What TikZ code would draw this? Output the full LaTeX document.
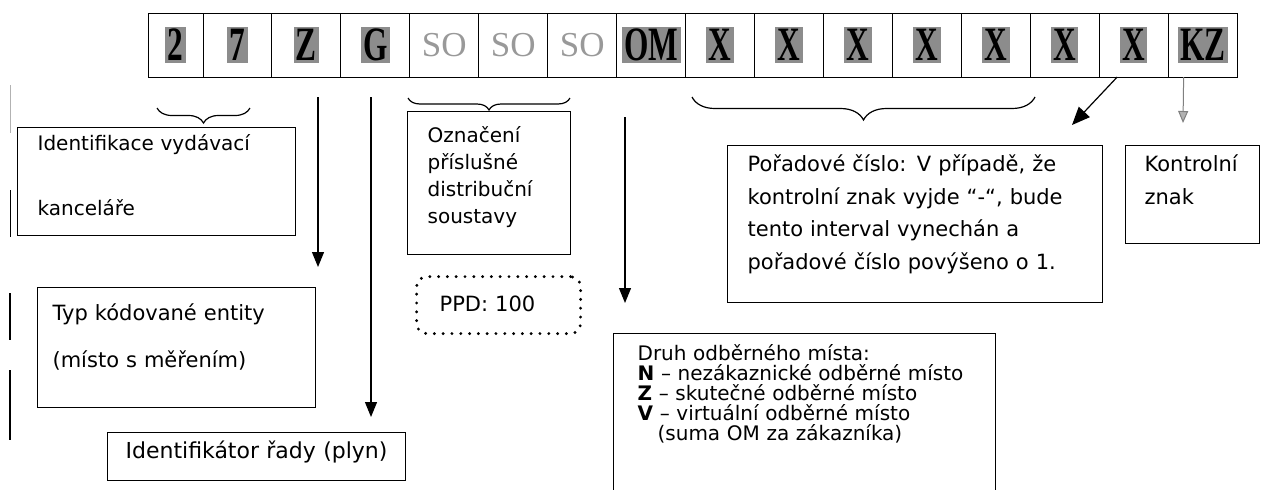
\documentclass[tikz,border=0pt]{standalone}
\usepackage{fontspec}
\setmainfont{DejaVu Sans}
\newfontfamily\serifcode{Liberation Serif}
\usepackage{graphicx}
\usetikzlibrary{positioning,decorations.pathreplacing,arrows.meta}

\definecolor{glyphgray}{gray}{0.55}
\definecolor{sogray}{gray}{0.6}
\newcommand{\glyph}[1]{{\setlength{\fboxsep}{1.2pt}\colorbox{glyphgray}{\serifcode\bfseries\fontsize{16.5}{18}\selectfont\scalebox{0.95}[1.45]{#1}}}}
\newcommand{\sotext}{{\color{sogray}\serifcode\fontsize{17.5}{18}\selectfont SO}}

\begin{document}
\begin{tikzpicture}[
		x=0.5pt, y=-0.5pt,
		cell/.style={
			draw,
			minimum width=34.47pt,
			minimum height=32pt,
			inner sep=0pt,
			outer sep=0pt,
			line width=0.5pt
			},
		box/.style={
			draw,
			anchor=north west,
			align=left,
			inner ysep=0pt,
			line width=0.6pt,
			font=\fontsize{10.5}{16}\selectfont
			},
		brace/.style={
			decorate,
			decoration={brace, amplitude=#1},
			line width=0.6pt
			},
		line/.style={
			draw,
			line width=0.6pt,
			-{Triangle[length=7.5pt, width=6pt]}
			}]
	    \useasboundingbox (0,0) rectangle (1263,489);
	    \clip (0,0) rectangle (1263,489);

	    % Code cells
	    \node [cell, minimum width=27.5pt, anchor=north west] (office1) at (148,13) {\glyph{2}};
	    \node [cell, right=0pt of office1] (office2) {\glyph{7}};
	    \node [cell, right=0pt of office2] (entity) {\glyph{Z}};
	    \node [cell, right=0pt of entity] (series) {\glyph{G}};
	    \node [cell, right=0pt of series] (so1) {\sotext};
	    \node [cell, right=0pt of so1] (so2) {\sotext};
	    \node [cell, right=0pt of so2] (so3) {\sotext};
	    \node [cell, right=0pt of so3] (om) {\glyph{OM}};
	    \node [cell, right=0pt of om] (x1) {\glyph{X}};
	    \node [cell, right=0pt of x1] (x2) {\glyph{X}};
	    \node [cell, right=0pt of x2] (x3) {\glyph{X}};
	    \node [cell, right=0pt of x3] (x4) {\glyph{X}};
	    \node [cell, right=0pt of x4] (x5) {\glyph{X}};
	    \node [cell, right=0pt of x5] (x6) {\glyph{X}};
	    \node [cell, right=0pt of x6] (x7) {\glyph{X}};
	    \node [cell, right=0pt of x7] (kz) {\glyph{KZ}};

	    % Description boxes
	    \node [box, text width=119pt, inner xsep=10pt, text height=11.5pt, text depth=42.5pt,
	        font=\fontsize{10}{32.5}\selectfont] (officebox) at (17,127) {Identifikace vydávací\\kanceláře};
	    \node [box, text width=124pt, inner xsep=7.5pt, text height=16.5pt, text depth=43.5pt,
	        font=\fontsize{10.5}{23.5}\selectfont] (entitybox) at (37,287) {Typ kódované entity\\(místo s měřením)};
	    \node [box, text width=131pt, inner xsep=9pt, text height=13pt, text depth=11pt,
	        font=\fontsize{11}{13}\selectfont] (seriesbox) at (107,432) {Identifikátor řady (plyn)};
	    \node [box, text width=61.5pt, inner xsep=10pt, text height=15.5pt, text depth=56pt,
	        font=\fontsize{10}{13.5}\selectfont] (sobox) at (407,111) {Označení\\příslušné\\distribuční\\soustavy};
	    \node [box, text width=59pt, inner xsep=11.5pt, text height=17.5pt, text depth=11pt,
	        line width=1.6pt, dash pattern=on 0pt off 4.4pt, line cap=round, rounded corners=5pt,
	        font=\fontsize{10.5}{13}\selectfont] (ppd) at (415,275) {PPD: 100};
	    \node [box, text width=167.5pt, inner xsep=10pt, text height=13pt, text depth=65.5pt,
	        font=\fontsize{10.5}{16.25}\selectfont] (numberbox) at (727,145)
	        {Pořadové číslo: V případě, že\\kontrolní znak vyjde “-“, bude\\tento interval vynechán a\\pořadové číslo povýšeno o 1.};
	    \node [box, text width=48pt, inner xsep=9.5pt, text height=13pt, text depth=36pt,
	        font=\fontsize{10.5}{16.25}\selectfont] (kzbox) at (1125,145) {Kontrolní\\znak};
	    \node [box, text width=167pt, inner xsep=12pt, text height=13.5pt, text depth=100pt,
	        font=\fontsize{10}{10}\selectfont] (ombox) at (613,333)
	        {Druh odběrného místa:\\\textbf{N} – nezákaznické odběrné místo\\\textbf{Z} – skutečné odběrné místo\\\textbf{V} – virtuální odběrné místo\\\hspace*{10pt}(suma OM za zákazníka)};

	    % Arrow ends
	    \coordinate (entityfrom) at (318,97);
	    \coordinate (entityto) at (318,267);
	    \coordinate (seriesfrom) at (371,97);
	    \coordinate (seriesto) at (371,417);
	    \coordinate (omfrom) at (625,117);
	    \coordinate (omto) at (625,303);
	    \coordinate (numberto) at (1072,125);
	    \coordinate (kzto) at (1183,123);

	    % Braces
	    \draw [brace=7.5pt] (250,108) -- (157,108);
	    \draw [brace=6pt] (570,98) -- (408,98);
	    \draw [brace=11.5pt] (1035,97) -- (692,97);

	    % Draw edges
	    \path [line] (entityfrom) -- (entityto);
	    \path [line] (seriesfrom) -- (seriesto);
	    \path [line] (omfrom) -- (omto);
	    \path [line, -{Triangle[length=9pt, width=7.5pt]}] ([xshift=-8.25pt]x7.south) -- (numberto);
	    \path [line, draw=gray, line width=0.5pt, -{Triangle[length=6pt, width=5pt, fill=gray!60]}] ([xshift=-9.5pt]kz.south) -- (kzto);

	    % Margin marks
	    \draw [gray!60, line width=0.5pt] (10,85) -- (10,133);
	    \draw [line width=0.5pt] (10,190) -- (10,237);
	    \draw [line width=1.1pt] (10,293) -- (10,340);
	    \draw [line width=1.1pt] (10,370) -- (10,440);
	\end{tikzpicture}
\end{document}
